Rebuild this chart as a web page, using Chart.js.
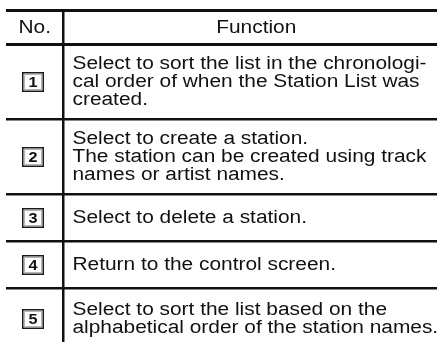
<!DOCTYPE html>
<html>
<head>
<meta charset="utf-8">
<script src="https://cdn.jsdelivr.net/npm/chart.js@4.4.0/dist/chart.umd.min.js"></script>
<style>
    html, body { margin: 0; padding: 0; background: #fff; }
    #wrap { width: 437px; height: 342px; }
</style>
</head>
<body>
<div id="wrap"><canvas id="table-chart"></canvas></div>
<script>
// Table data
const headers = ['No.', 'Function'];
const itemNumbers = ['1', '2', '3', '4', '5'];
const functionLines = [
    ['Select to sort the list in the chronologi-', 'cal order of when the Station List was', 'created.'],
    ['Select to create a station.', 'The station can be created using track', 'names or artist names.'],
    ['Select to delete a station.'],
    ['Return to the control screen.'],
    ['Select to sort the list based on the', 'alphabetical order of the station names.'],
];

// Layout (axis units ~ pixels)
const X_MAX = 431;
const COL_SPLIT = 57.5;
const TABLE_RIGHT = 443;
const Y_MAX = 332;
const HEADER_H = 34;
const ROW_BASE = 33;
const ROW_PER_LINE = 14;
const LINE_GAP = 18;
const STRETCH = 1.16;

const rowBounds = [0, HEADER_H];
functionLines.forEach(lines => {
    rowBounds.push(rowBounds[rowBounds.length - 1] + ROW_BASE + ROW_PER_LINE * lines.length);
});

function stretchedText(ctx, text, x, y, align) {
    ctx.save();
    ctx.translate(x, y);
    ctx.scale(STRETCH, 1);
    ctx.textAlign = align;
    ctx.fillText(text, 0, 0);
    ctx.restore();
}

const tableText = {
    id: 'tableText',
    afterDraw(chart) {
        const ctx = chart.ctx;
        const xs = chart.scales.x;
        const ys = chart.scales.y;
        ctx.save();
        ctx.fillStyle = '#111';
        ctx.textBaseline = 'middle';
        ctx.font = '18px "Liberation Sans", Arial, sans-serif';

        // header
        const hy = ys.getPixelForValue((rowBounds[0] + rowBounds[1]) / 2) + 1;
        stretchedText(ctx, headers[0], xs.getPixelForValue(COL_SPLIT / 2), hy, 'center');
        stretchedText(ctx, headers[1], xs.getPixelForValue((COL_SPLIT + TABLE_RIGHT) / 2), hy, 'center');

        // rows
        functionLines.forEach((lines, i) => {
            const mid = ys.getPixelForValue((rowBounds[i + 1] + rowBounds[i + 2]) / 2);
            const tx = xs.getPixelForValue(COL_SPLIT) + 9;
            ctx.font = '18px "Liberation Sans", Arial, sans-serif';
            ctx.fillStyle = '#111';
            lines.forEach((line, j) => {
                const ly = mid + (j - (lines.length - 1) / 2) * LINE_GAP + 1;
                stretchedText(ctx, line, tx, ly, 'left');
            });

            // number badge
            const bx = Math.round(xs.getPixelForValue(COL_SPLIT / 2) - 1.5);
            const by = Math.round(mid);
            ctx.strokeStyle = '#b5b5b5';
            ctx.lineWidth = 1;
            ctx.strokeRect(bx - 8.5, by - 7.5, 17, 15);
            ctx.strokeStyle = '#1a1a1a';
            ctx.lineWidth = 1.5;
            ctx.strokeRect(bx - 10.25, by - 9.25, 20.5, 18.5);
            ctx.font = 'bold 14px "Liberation Sans", Arial, sans-serif';
            ctx.fillStyle = '#111';
            stretchedText(ctx, itemNumbers[i], bx, by + 1, 'center');
        });
        ctx.restore();
    }
};

new Chart(document.getElementById('table-chart'), {
    type: 'scatter',
    data: { datasets: [{ data: [] }] },
    options: {
        responsive: true,
        maintainAspectRatio: false,
        animation: false,
        layout: { padding: { left: 6, top: 10, right: 0, bottom: 0 } },
        plugins: { legend: { display: false }, tooltip: { enabled: false } },
        scales: {
            x: {
                type: 'linear',
                min: 0,
                max: X_MAX,
                border: { display: false },
                ticks: { display: false },
                grid: { drawTicks: false, color: '#111', lineWidth: 2.5 },
                afterBuildTicks: (scale) => { scale.ticks = [{ value: COL_SPLIT }]; },
            },
            y: {
                type: 'linear',
                reverse: true,
                min: 0,
                max: Y_MAX,
                border: { display: false },
                ticks: { display: false },
                grid: {
                    drawTicks: false,
                    color: '#111',
                    lineWidth: (c) => (c.index < 2 ? 3 : 2.5),
                },
                afterBuildTicks: (scale) => {
                    scale.ticks = rowBounds.filter(v => v <= Y_MAX).map(v => ({ value: v }));
                },
            },
        },
    },
    plugins: [tableText],
});
</script>
</body>
</html>
